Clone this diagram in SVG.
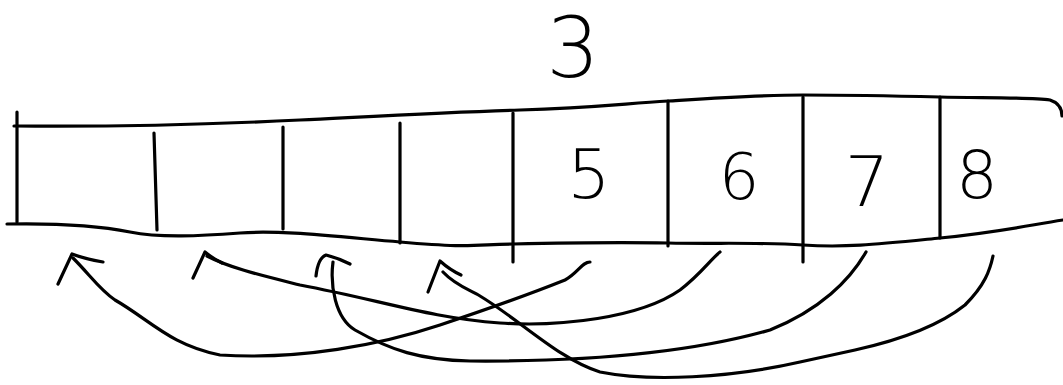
<svg xmlns="http://www.w3.org/2000/svg" width="1063" height="385" viewBox="0 0 1063 385">
<style>
.ink{fill:none;stroke:#000;stroke-width:3.2;stroke-linecap:round;stroke-linejoin:round}
.lbl{font-family:"DejaVu Sans","Liberation Sans",sans-serif;font-weight:200;fill:#000;text-anchor:middle}
</style>
<rect width="1063" height="385" fill="#fff"/>
<g id="title"><text class="lbl" x="573" y="77" font-size="84">3</text></g>
<g id="array">
<path class="ink" d="M14,126 C120,127 220,124 300,120 S450,112 520,110 S620,104 668,101 S760,95 803,95 S900,96 940,97 S1030,97 1050,100 Q1062,104 1062,116"/>
<path class="ink" d="M7,224 C60,223 100,226 130,232 S200,236 240,233 S330,236 400,242 S470,245 513,244 S620,242 668,243 S760,242 803,245 S880,244 940,238 S1030,225 1063,220"/>
<path class="ink" d="M17,112 L17,222"/>
<path class="ink" d="M154,133 L157,230"/>
<path class="ink" d="M283,127 L283,229"/>
<path class="ink" d="M400,123 L400,243"/>
<path class="ink" d="M513,113 L513,262"/>
<path class="ink" d="M668,101 L668,246"/>
<path class="ink" d="M803,97 L803,262"/>
<path class="ink" d="M940,97 L940,238"/>
</g>
<g id="cell5"><text class="lbl" x="589" y="198" font-size="68">5</text></g>
<g id="cell6"><text class="lbl" x="739" y="199" font-size="64">6</text></g>
<g id="cell7"><text class="lbl" x="867" y="206" font-size="70">7</text></g>
<g id="cell8"><text class="lbl" x="977" y="198" font-size="66">8</text></g>
<g id="connectors">
<path class="ink" d="M58,284 L72,254 Q85,259 103,262"/>
<path class="ink" d="M73,258 C90,275 100,290 115,300 C150,320 170,345 220,355 C300,360 380,345 440,325 C500,305 540,290 565,280 C578,273 582,262 590,262"/>
<path class="ink" d="M193,278 L205,252 Q212,258 222,263"/>
<path class="ink" d="M207,256 C230,268 260,275 300,285 C380,300 430,318 500,323 C560,327 640,318 680,290 C700,275 712,258 720,252"/>
<path class="ink" d="M316,276 Q318,258 326,255 Q338,258 350,264"/>
<path class="ink" d="M333,262 C330,285 335,318 355,330 C390,350 420,360 470,361 C600,362 700,350 770,330 C820,310 850,280 866,252"/>
<path class="ink" d="M428,292 L440,261 Q450,270 461,275"/>
<path class="ink" d="M443,272 C455,285 470,290 480,296 C520,320 560,360 600,372 C650,382 730,378 800,362 L855,350 C900,340 940,325 965,305 C985,285 990,270 993,256"/>
</g>
</svg>
